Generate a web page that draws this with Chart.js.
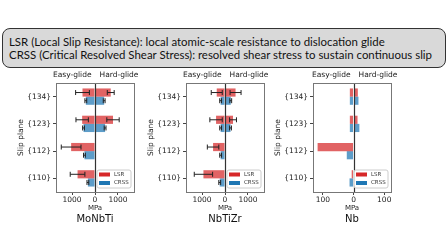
<!DOCTYPE html>
<html lang="en">
<head>
<meta charset="UTF-8" />
<title>Slip resistance by slip plane</title>
<script src="https://cdn.jsdelivr.net/npm/chart.js"></script>
<style>
  body { margin: 0; width: 448px; height: 252px; background: #fff; position: relative; overflow: hidden; }
  .note {
    position: absolute; left: 2px; top: 28px; width: 444px; height: 40px;
    box-sizing: border-box; background: #d9d9d9; border: 1.5px solid #333; border-radius: 8px;
  }
  .note p {
    position: absolute; left: 6px; margin: 0; font-family: Lato, sans-serif;
    white-space: nowrap; color: #111; line-height: 12px;
  }
  canvas { position: absolute; top: 70px; }
</style>
</head>
<body>

<div class="note">
  <p id="line1" style="top:7px">LSR (Local Slip Resistance): local atomic-scale resistance to dislocation glide</p>
  <p id="line2" style="top:19.5px">CRSS (Critical Resolved Shear Stress): resolved shear stress to sustain continuous slip</p>
</div>

<canvas id="moNbTi" width="145" height="160" style="left:0px"></canvas>
<canvas id="nbTiZr" width="145" height="160" style="left:130px"></canvas>
<canvas id="nb" width="145" height="160" style="left:257px"></canvas>

<script>
  const slipPlanes = ['{134}', '{123}', '{112}', '{110}'];

  // MoNbTi (MPa), negative = easy-glide, positive = hard-glide
  const moLsrNeg = [-545, -560, -1040, -760];
  const moLsrPos = [686, 785, 0, 0];
  const moCrssNeg = [-400, -500, -460, -310];
  const moCrssPos = [400, 440, 0, 0];
  const moLsrNegErr = [300, 270, 430, 320];
  const moLsrPosErr = [150, 270, 0, 0];
  const moCrssNegErr = [40, 40, 40, 40];
  const moCrssPosErr = [40, 40, 0, 0];

  // NbTiZr (MPa)
  const nzLsrNeg = [-360, -390, -520, -940];
  const nzLsrPos = [460, 350, 0, 0];
  const nzCrssNeg = [-190, -190, -190, -230];
  const nzCrssPos = [250, 240, 0, 0];
  const nzLsrNegErr = [240, 270, 250, 400];
  const nzLsrPosErr = [240, 150, 0, 0];
  const nzCrssNegErr = [40, 40, 40, 40];
  const nzCrssPosErr = [40, 40, 0, 0];

  // Nb (MPa)
  const nbLsrNeg = [-12, -12, -117, -6];
  const nbLsrPos = [14, 13, 0, 0];
  const nbCrssNeg = [-12, -12, -22, -13];
  const nbCrssPos = [16, 19, 0, 0];

  const ticksHea = [-1000, 0, 1000];
  const ticksNb = [-100, 0, 100];

  const FONT = "'DejaVu Sans', sans-serif";
  const RED_FILL = 'rgba(214, 39, 40, 0.72)';
  const BLUE_FILL = 'rgba(31, 119, 180, 0.72)';
  const RED = '#d62728';
  const BLUE = '#1f77b4';

  // fit the note text to the box width
  (function fitNote() {
    const c = document.createElement('canvas').getContext('2d');
    c.font = '100px Lato';
    const w = c.measureText(document.getElementById('line2').textContent).width;
    const size = 100 * 424 / w;
    document.getElementById('line1').style.fontSize = size + 'px';
    document.getElementById('line2').style.fontSize = size + 'px';
  })();

  function panelDecor(p) {
    return {
      id: 'decor',
      afterDatasetsDraw(chart) {
        const { ctx, chartArea: a, scales: { x } } = chart;
        const zero = Math.round(x.getPixelForValue(0)) + 0.5;
        ctx.save();

        // error bars
        ctx.strokeStyle = '#222';
        ctx.lineWidth = 1;
        p.errs.forEach((errs, di) => {
          if (!errs) return;
          chart.getDatasetMeta(di).data.forEach((bar, i) => {
            const e = errs[i];
            if (!e) return;
            const v = chart.data.datasets[di].data[i];
            const x1 = x.getPixelForValue(v - e), x2 = x.getPixelForValue(v + e), y = bar.y;
            ctx.beginPath();
            ctx.moveTo(x1, y); ctx.lineTo(x2, y);
            ctx.moveTo(x1, y - 2.5); ctx.lineTo(x1, y + 2.5);
            ctx.moveTo(x2, y - 2.5); ctx.lineTo(x2, y + 2.5);
            ctx.stroke();
          });
        });

        // zero line
        ctx.strokeStyle = '#333';
        ctx.lineWidth = 1.2;
        ctx.beginPath();
        ctx.moveTo(zero, a.top); ctx.lineTo(zero, a.bottom);
        ctx.stroke();

        // frame
        ctx.strokeStyle = '#777';
        ctx.lineWidth = 1;
        ctx.strokeRect(Math.round(a.left) + 0.5, Math.round(a.top) + 0.5,
          Math.round(a.right - a.left), Math.round(a.bottom - a.top));

        // legend in lower right
        const lw = 34, lh = 18;
        const lx = a.right - 3 - lw, ly = a.bottom - 4 - lh;
        ctx.fillStyle = 'rgba(255,255,255,0.9)';
        ctx.strokeStyle = '#ccc';
        ctx.beginPath();
        ctx.roundRect(lx, ly, lw, lh, 2);
        ctx.fill(); ctx.stroke();
        [['LSR', RED], ['CRSS', BLUE]].forEach(([t, col], k) => {
          const cy = ly + 4.5 + k * 8.5;
          ctx.fillStyle = col;
          ctx.fillRect(lx + 2, cy - 2, 11, 4);
          ctx.fillStyle = '#333';
          ctx.font = '5.5px ' + FONT;
          ctx.textAlign = 'left';
          ctx.textBaseline = 'middle';
          ctx.fillText(t, lx + 17, cy);
        });

        // labels around the panel
        ctx.fillStyle = '#222';
        ctx.font = '7.5px ' + FONT;
        ctx.textBaseline = 'middle';
        ctx.textAlign = 'right';
        ctx.fillText('Easy-glide', zero - 4, a.top - 7.5);
        ctx.textAlign = 'left';
        ctx.fillText('Hard-glide', zero + 4, a.top - 7.5);

        ctx.textAlign = 'center';
        ctx.font = '7px ' + FONT;
        ctx.fillText('MPa', (a.left + a.right) / 2, a.bottom + 16);
        ctx.font = '10px ' + FONT;
        ctx.fillStyle = '#111';
        ctx.fillText(p.name, (a.left + a.right) / 2, a.bottom + 27.5);

        ctx.font = '7.5px ' + FONT;
        ctx.fillStyle = '#222';
        ctx.translate(a.left - 35, (a.top + a.bottom) / 2);
        ctx.rotate(-Math.PI / 2);
        ctx.fillText('Slip plane', 0, 0);
        ctx.restore();
      }
    };
  }

  function makeChart(p) {
    const ds = (label, data, stack, color) => ({
      label, data, stack, backgroundColor: color, borderWidth: 0,
      barPercentage: 1, categoryPercentage: 0.6
    });
    return new Chart(document.getElementById(p.id), {
      type: 'bar',
      data: {
        labels: slipPlanes,
        datasets: [
          ds('LSR', p.lsrNeg, 'LSR', RED_FILL),
          ds('LSR', p.lsrPos, 'LSR', RED_FILL),
          ds('CRSS', p.crssNeg, 'CRSS', BLUE_FILL),
          ds('CRSS', p.crssPos, 'CRSS', BLUE_FILL)
        ]
      },
      options: {
        indexAxis: 'y',
        responsive: false,
        animation: false,
        devicePixelRatio: 1,
        layout: { padding: { top: 13, right: 11, left: 0, bottom: 0 } },
        plugins: { legend: { display: false }, tooltip: { enabled: false } },
        scales: {
          x: {
            stacked: true,
            min: p.min,
            max: p.max,
            afterBuildTicks: s => { s.ticks = p.ticks.map(v => ({ value: v })); },
            afterFit: s => { s.height = 38; },
            grid: { drawOnChartArea: false, tickLength: 3, color: '#444' },
            border: { display: false },
            ticks: {
              font: { size: 7.5, family: FONT }, color: '#222', padding: 1,
              maxRotation: 0, autoSkip: false,
              callback: v => String(Math.abs(v))
            }
          },
          y: {
            afterFit: s => { s.width = 56; },
            grid: { drawOnChartArea: false, tickLength: 3, color: '#444', offset: false },
            border: { display: false },
            ticks: { font: { size: 7.5, family: FONT }, color: '#222', padding: 2 }
          }
        }
      },
      plugins: [panelDecor(p)]
    });
  }

  makeChart({
    id: 'moNbTi', name: 'MoNbTi', min: -1700, max: 1700, ticks: ticksHea,
    lsrNeg: moLsrNeg, lsrPos: moLsrPos, crssNeg: moCrssNeg, crssPos: moCrssPos,
    errs: [moLsrNegErr, moLsrPosErr, moCrssNegErr, moCrssPosErr]
  });
  makeChart({
    id: 'nbTiZr', name: 'NbTiZr', min: -1700, max: 1700, ticks: ticksHea,
    lsrNeg: nzLsrNeg, lsrPos: nzLsrPos, crssNeg: nzCrssNeg, crssPos: nzCrssPos,
    errs: [nzLsrNegErr, nzLsrPosErr, nzCrssNegErr, nzCrssPosErr]
  });
  makeChart({
    id: 'nb', name: 'Nb', min: -132, max: 122, ticks: ticksNb,
    lsrNeg: nbLsrNeg, lsrPos: nbLsrPos, crssNeg: nbCrssNeg, crssPos: nbCrssPos,
    errs: [null, null, null, null]
  });
</script>
</body>
</html>
